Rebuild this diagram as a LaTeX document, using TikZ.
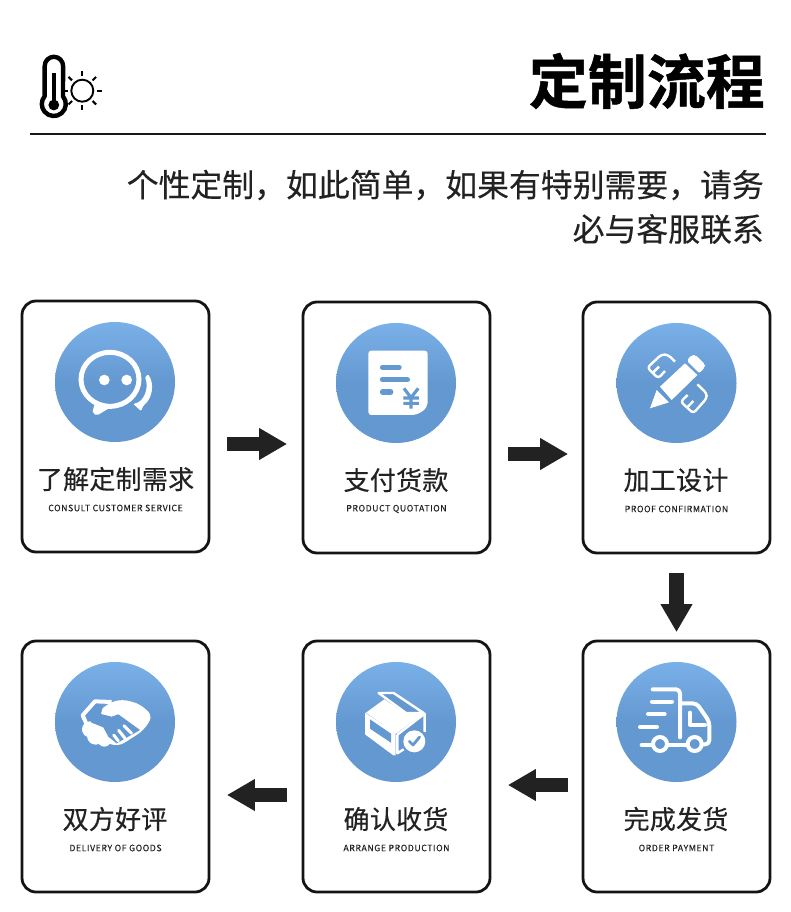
\documentclass[tikz,border=0pt]{standalone}
\usepackage{fontspec}
\usetikzlibrary{arrows.meta,calc}
\setmainfont{Noto Sans CJK SC}
\newfontfamily\titlefont{Noto Sans CJK SC}[BoldFont={* Bold},BoldFeatures={FakeBold=0.8}]
\newfontfamily\subheadfont{Noto Sans CJK SC}[FakeBold=0.3]
\newfontfamily\labelfont{Noto Sans CJK SC}[FakeBold=0.35,LetterSpace=1]
\newfontfamily\enfont{Noto Sans CJK SC}[LetterSpace=6,FakeBold=0.1]
\definecolor{inkc}{HTML}{222222}
\definecolor{bluetop}{HTML}{7AB0E8}
\definecolor{bluemid}{HTML}{6498D0}
\tikzset{
  card/.style={draw=black!92,line width=2.8pt,rounded corners=14pt,minimum width=187pt,minimum height=251pt,inner sep=0pt},
  disc/.style={circle,minimum size=120pt,inner sep=0pt,top color=bluetop,bottom color=bluemid,middle color=bluemid},
  cnlabel/.style={font=\fontsize{26}{30}\labelfont,text=inkc,inner sep=0pt,anchor=center},
  enlabel/.style={font=\fontsize{8.8}{10}\enfont,text=inkc,inner sep=0pt,anchor=center},
  blockarrow/.style={draw=inkc,line width=14.5pt,-{Triangle[length=28pt,width=30pt,fill=inkc]}},
  whiteline/.style={draw=white,line cap=round,line join=round},
}
\begin{document}
\begin{tikzpicture}[x=1pt,y=-1pt]
\useasboundingbox (0,0) rectangle (790,912);
\fill[white] (0,0) rectangle (790,912);

% header icon
\draw[line width=4.4pt,black,line join=round] (44.7,66) arc[start angle=180,end angle=360,radius=9.2] -- (63,96.3) arc[start angle=-40,end angle=220,radius=12] -- cycle;
\fill[black] (51.5,73) rectangle (56.2,102);
\fill[black] (53.8,105) circle (5.4);
\draw[line width=1.9pt,black] (82.3,90.7) circle (11);
\foreach \a in {0,45,...,315}{\draw[line width=2.1pt,black] (82.3,90.7)++(\a:14.5) -- ++(\a:5);}

% header text
\node[font=\fontsize{59}{66}\titlefont\bfseries,text=black,inner sep=0pt,anchor=east] (title) at (765,81) {定制流程};
\draw[line width=2pt,black!90] (30,134) coordinate (ruleL) -- (766,134) coordinate (ruleR);
\node[font=\fontsize{31.85}{38}\subheadfont,text=inkc,inner sep=0pt,anchor=east] (sub1) at (764,185) {个性定制，如此简单，如果有特别需要，请务};
\node[font=\fontsize{31.85}{38}\subheadfont,text=inkc,inner sep=0pt,anchor=east] (sub2) at (764,229) {必与客服联系};

% cards
\node[card] (c1) at (115.5,426.5) {};
\node[card] (c2) at (396.5,427.5) {};
\node[card] (c3) at (676.5,427.5) {};
\node[card] (c4) at (676.5,766.5) {};
\node[card] (c5) at (396.5,766.5) {};
\node[card] (c6) at (115.5,766.5) {};

% discs
\node[disc] (d1) at (115,382) {};
\node[disc] (d2) at (396,383) {};
\node[disc] (d3) at (676.5,383) {};
\node[disc] (d4) at (676.5,722) {};
\node[disc] (d5) at (396,722) {};
\node[disc] (d6) at (115,722) {};

% labels
\node[cnlabel] (l1) at (115.5,479) {了解定制需求};
\node[enlabel] (e1) at (115.5,508) {CONSULT CUSTOMER SERVICE};
\node[cnlabel] (l2) at (396,480) {支付货款};
\node[enlabel] (e2) at (396.5,509) {PRODUCT QUOTATION};
\node[cnlabel] (l3) at (676,480) {加工设计};
\node[enlabel] (e3) at (676.5,509) {PROOF CONFIRMATION};
\node[cnlabel] (l4) at (676,819) {完成发货};
\node[enlabel] (e4) at (676.5,848) {ORDER PAYMENT};
\node[cnlabel] (l5) at (396,819) {确认收货};
\node[enlabel] (e5) at (396.5,848) {ARRANGE PRODUCTION};
\node[cnlabel] (l6) at (115,819) {双方好评};
\node[enlabel] (e6) at (115.5,848) {DELIVERY OF GOODS};

% block arrows
\coordinate (a1s) at ($(c1.east)+(17,17.5)$); \coordinate (a1e) at ($(c2.west)+(-14.5,16.5)$);
\coordinate (a2s) at ($(c2.east)+(17,26.5)$); \coordinate (a2e) at ($(c3.west)+(-13.5,26.5)$);
\coordinate (a3s) at ($(c3.south)+(0,18.5)$); \coordinate (a3e) at ($(c4.north)+(0,-7.5)$);
\coordinate (a4s) at ($(c4.west)+(-14,18.5)$); \coordinate (a4e) at ($(c5.east)+(16.5,18.5)$);
\coordinate (a5s) at ($(c5.west)+(-15,28.5)$); \coordinate (a5e) at ($(c6.east)+(16.5,28.5)$);
\draw[blockarrow] (a1s) -- (a1e);
\draw[blockarrow] (a2s) -- (a2e);
\draw[blockarrow] (a3s) -- (a3e);
\draw[blockarrow] (a4s) -- (a4e);
\draw[blockarrow] (a5s) -- (a5e);

% chat icon
\begin{scope}[shift={(70,340)},x=0.3333pt,y=-0.3333pt]
\draw[line width=5pt,white] (120,118) ellipse (87 and 81);
\fill[white] (75,185) -- (68,215) .. controls (70,224) and (78,226) .. (85,224) -- (125,200) -- cycle;
\fill[white] (103,120) circle (16);
\fill[white] (170,120) circle (16);
\fill[white,rounded corners=1pt] (234,103) .. controls (254,130) and (248,175) .. (220,197) -- (213,213) -- (190,192) -- (205,187) .. controls (226,172) and (236,140) .. (225,112) -- cycle;
\end{scope}
% receipt icon
\begin{scope}[shift={(40,310)},x=0.3333pt,y=-0.3333pt]
\fill[white,rounded corners=3pt] (985,122) -- (1163,122) -- (1163,270) .. controls (1163,295) and (1140,315) .. (1105,315) -- (985,315) -- cycle;
\draw[line width=5.5pt,line cap=round,bluemid] (1028,172) -- (1077,172);
\draw[line width=5.5pt,line cap=round,bluemid] (1028,209) -- (1102,209);
\draw[line width=5.5pt,line cap=round,bluemid] (1028,246) -- (1052,246);
\draw[line width=3.1pt,bluemid] (1092,235) -- (1113,263) -- (1135,235) (1113,263) -- (1113,296) (1090,264) -- (1137,264) (1090,280) -- (1137,280);
\end{scope}
% pencil icon
\begin{scope}[shift={(640,345)},x=0.3333pt,y=-0.3333pt]
\fill[white] (60,125) -- (135,55) -- (172,90) -- (95,165) -- cycle;
\fill[white,rounded corners=2pt] (140,47) -- (155,30) -- (167,30) -- (195,58) -- (195,66) -- (178,85) -- cycle;
\fill[white] (30,190) -- (50,135) -- (87,172) -- cycle;
\draw[line width=2.4pt,white,line join=round,rounded corners=3pt] (105,50) -- (85,30) -- (65,28) -- (22,68) -- (55,100) -- (75,78);
\draw[line width=2.4pt,white] (38,84) -- (57,65);
\draw[line width=2.4pt,white,line join=round,rounded corners=3pt] (172,118) -- (200,145) -- (200,160) -- (160,205) -- (122,170) -- (143,150);
\draw[line width=2.4pt,white] (141,188) -- (160,168);
\end{scope}
% truck icon
\begin{scope}[shift={(590,650)},x=0.3333pt,y=-0.3333pt]
\begin{scope}[whiteline,line width=4pt]
\draw[rounded corners=4pt] (188,118) -- (270,118) -- (270,262);
\draw[rounded corners=4pt] (272,160) -- (320,160) -- (358,215) -- (358,283) -- (340,283);
\draw (300,188) -- (300,224) -- (345,224);
\draw (186,155) -- (246,155) (174,192) -- (224,192) (150,231) -- (201,231);
\draw (155,285) -- (185,285) (236,285) -- (288,285);
\draw (210,282) circle (21);
\draw (314,282) circle (21);
\end{scope}
\end{scope}
% box icon
\begin{scope}[shift={(356,682)},x=0.3333pt,y=-0.3333pt]
\draw[line width=2.4pt,white,line join=round,fill=bluemid] (68,33) -- (113,33) -- (203,93) -- (150,93) -- cycle;
\fill[white] (30,92) -- (85,52) -- (150,95) -- (205,93) -- (120,155) -- cycle;
\fill[white] (27,92) -- (119,152) -- (119,220) -- (112,220) -- (27,157) -- cycle;
\fill[bluemid] (42,112) -- (105,155) -- (105,182) -- (42,140) -- cycle;
\draw[line width=2.4pt,white,line join=round] (124,158) -- (206,95) -- (206,150) (124,158) -- (124,214) -- (146,200);
\fill[bluemid] (175,178) circle (40);
\fill[white] (175,178) circle (33);
\draw[line width=2.8pt,bluemid,line cap=round,line join=round] (160,178) -- (171,189) -- (191,165);
\end{scope}
% handshake icon
\begin{scope}[shift={(75,690)},x=0.3333pt,y=-0.3333pt]
\fill[white] (45,118) circle (24) (62,138) circle (26) (88,150) circle (20);
\fill[white,rounded corners=7pt] (95,42) -- (140,27) -- (195,42) -- (234,78) -- (205,122) -- (130,170) -- (70,150) -- (60,80) -- cycle;
\draw[line width=4pt,white,line join=round] (110,36) -- (60,34) -- (23,76) -- (38,110);
\fill[bluemid] (33,75) -- (62,43) -- (84,45) -- (78,72) -- (110,80) -- (130,73) -- (195,120) -- (125,160) -- (100,140) -- (85,112) -- (50,98) -- cycle;
\draw[line width=3pt,white,line cap=round] (147,107) -- (170,130) (131,121) -- (150,145) (116,135) -- (130,153);
\end{scope}
\end{tikzpicture}
\end{document}
